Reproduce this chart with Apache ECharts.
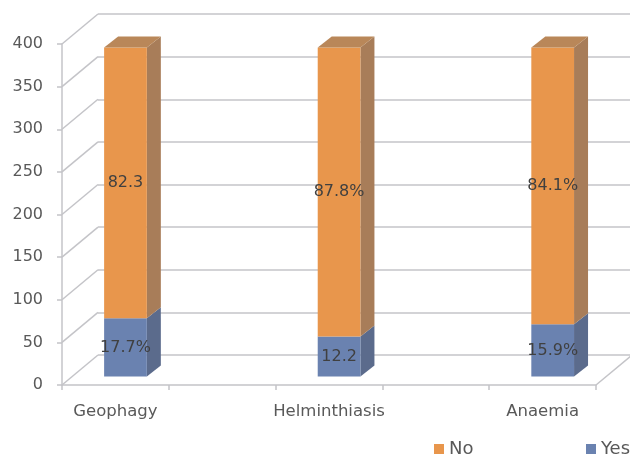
<!DOCTYPE html>
<html>
<head>
<meta charset="utf-8">
<script src="https://cdn.jsdelivr.net/npm/echarts@6/dist/echarts.min.js"></script>
<style>
  html, body { margin: 0; padding: 0; background: #ffffff; }
  #chart { width: 630px; height: 456px; }
</style>
</head>
<body>
<div id="chart"></div>
<script>
// Categories along the floor; the blank slots keep the wide gaps between bars
const categories = ['Geophagy', '', 'Helminthiasis', '', 'Anaemia'];
// Respondents per condition
const sampleSize = [386, null, 386, null, 386];
// Share of respondents (%) answering Yes / No
const yesPct = [17.7, null, 12.2, null, 15.9];
const noPct = [82.3, null, 87.8, null, 84.1];
// Text printed on each segment
const yesLabels = ['17.7%', '', '12.2', '', '15.9%'];
const noLabels = ['82.3', '', '87.8%', '', '84.1%'];
// Value-axis ticks
const yTicks = [0, 50, 100, 150, 200, 250, 300, 350, 400];

const FONT = 'DejaVu Sans';
const GRID_COLOR = '#c4c4c8';
// Depth of the plot box (front plane -> back wall)
const WALL_DX = 36, WALL_DY = -30;
// Bars sit a little behind the front plane and have their own depth
const BAR_SHIFT = 0.28;
const BAR_DX = 14, BAR_DY = -11;

const colors = {
  No:  { front: '#e8964c', side: '#a87d59', top: '#b98759' },
  Yes: { front: '#6a82b0', side: '#5b6b8c', top: '#5b6b8c' }
};

// Build stacked segments: [categoryIndex, base, top, label, isTopmost]
const yesData = [], noData = [];
categories.forEach((c, i) => {
  if (sampleSize[i] == null) return;
  const yes = sampleSize[i] * yesPct[i] / 100;
  const no = sampleSize[i] * noPct[i] / 100;
  yesData.push([i, 0, yes, yesLabels[i], 0]);
  noData.push([i, yes, yes + no, noLabels[i], 1]);
});

function barRenderer(palette, rows) {
  return function (params, api) {
    const row = rows[params.dataIndex];
    const idx = api.value(0);
    const base = api.value(1);
    const top = api.value(2);
    const isTop = api.value(4) === 1;
    const pb = api.coord([idx, base]);
    const pt = api.coord([idx, top]);
    const slot = api.size([1, 0])[0];
    const w = slot * 0.4;
    const ox = WALL_DX * BAR_SHIFT, oy = WALL_DY * BAR_SHIFT;
    const cx = pb[0] + ox;
    const yb = pb[1] + oy, yt = pt[1] + oy;
    const l = cx - w / 2, r = cx + w / 2;
    const children = [
      { type: 'polygon', shape: { points: [[r, yb], [r + BAR_DX, yb + BAR_DY], [r + BAR_DX, yt + BAR_DY], [r, yt]] },
        style: { fill: palette.side } },
      { type: 'rect', shape: { x: l, y: yt, width: w, height: yb - yt }, style: { fill: palette.front } }
    ];
    if (isTop) {
      children.push({ type: 'polygon',
        shape: { points: [[l, yt], [r, yt], [r + BAR_DX, yt + BAR_DY], [l + BAR_DX, yt + BAR_DY]] },
        style: { fill: palette.top } });
    }
    children.push({ type: 'text',
      style: { text: row[3], x: cx, y: (yt + yb) / 2, align: 'center', verticalAlign: 'middle',
               fill: '#404040', fontSize: 16, fontFamily: FONT } });
    return { type: 'group', children: children };
  };
}

// Side wall / floor edges joining the front plane to the back wall
function wallRenderer(params, api) {
  const cs = params.coordSys;
  const v = api.value(1);
  const y = api.coord([0, v])[1];
  const children = [
    { type: 'line', shape: { x1: cs.x, y1: y, x2: cs.x + WALL_DX, y2: y + WALL_DY },
      style: { stroke: GRID_COLOR, lineWidth: 1.5 } }
  ];
  if (v === 0) {
    const xr = cs.x + cs.width;
    children.push({ type: 'line', shape: { x1: xr, y1: y, x2: xr + WALL_DX, y2: y + WALL_DY },
      style: { stroke: GRID_COLOR, lineWidth: 1.5 } });
  }
  return { type: 'group', children: children };
}

const legendBase = {
  top: 435, icon: 'rect', itemWidth: 10, itemHeight: 10,
  textStyle: { color: '#595959', fontSize: 18, fontFamily: FONT }
};

const chart = echarts.init(document.getElementById('chart'), null, { renderer: 'canvas' });
chart.setOption({
  animation: false,
  backgroundColor: '#ffffff',
  textStyle: { fontFamily: FONT },
  grid: [
    { left: 62, right: 34, top: 44, bottom: 71 },   // front plane
    { left: 98, right: 0, top: 14, bottom: 101 }    // back wall
  ],
  xAxis: [
    {
      type: 'category', gridIndex: 0, data: categories,
      axisLine: { lineStyle: { color: GRID_COLOR, width: 1.5 } },
      axisTick: { show: true, length: 5, interval: 0, lineStyle: { color: GRID_COLOR, width: 1.5 } },
      axisLabel: { interval: 0, color: '#595959', fontSize: 16.5, fontFamily: FONT, margin: 18 }
    },
    { type: 'category', gridIndex: 1, data: categories, show: false }
  ],
  yAxis: [
    {
      type: 'value', gridIndex: 0, min: 0, max: 400, interval: 50,
      axisLine: { show: true, lineStyle: { color: GRID_COLOR, width: 1.5 } },
      axisTick: { show: true, length: 5, lineStyle: { color: GRID_COLOR, width: 1.5 } },
      axisLabel: { color: '#595959', fontSize: 16, fontFamily: FONT, margin: 19 },
      splitLine: { show: false }
    },
    {
      type: 'value', gridIndex: 1, min: 0, max: 400, interval: 50,
      axisLine: { show: false }, axisTick: { show: false }, axisLabel: { show: false },
      splitLine: { show: true, lineStyle: { color: GRID_COLOR, width: 1.5 } }
    }
  ],
  legend: [
    Object.assign({ data: ['No'], left: 429 }, legendBase),
    Object.assign({ data: ['Yes'], left: 581 }, legendBase)
  ],
  series: [
    {
      name: 'wall', type: 'custom', xAxisIndex: 0, yAxisIndex: 0, clip: false, silent: true,
      data: yTicks.map(v => [0, v]), encode: { x: 0, y: 1 }, renderItem: wallRenderer, z: 1
    },
    {
      name: 'Yes', type: 'custom', xAxisIndex: 0, yAxisIndex: 0, clip: false,
      itemStyle: { color: colors.Yes.front },
      data: yesData, encode: { x: 0, y: [1, 2] }, renderItem: barRenderer(colors.Yes, yesData), z: 3
    },
    {
      name: 'No', type: 'custom', xAxisIndex: 0, yAxisIndex: 0, clip: false,
      itemStyle: { color: colors.No.front },
      data: noData, encode: { x: 0, y: [1, 2] }, renderItem: barRenderer(colors.No, noData), z: 4
    }
  ]
});
</script>
</body>
</html>
